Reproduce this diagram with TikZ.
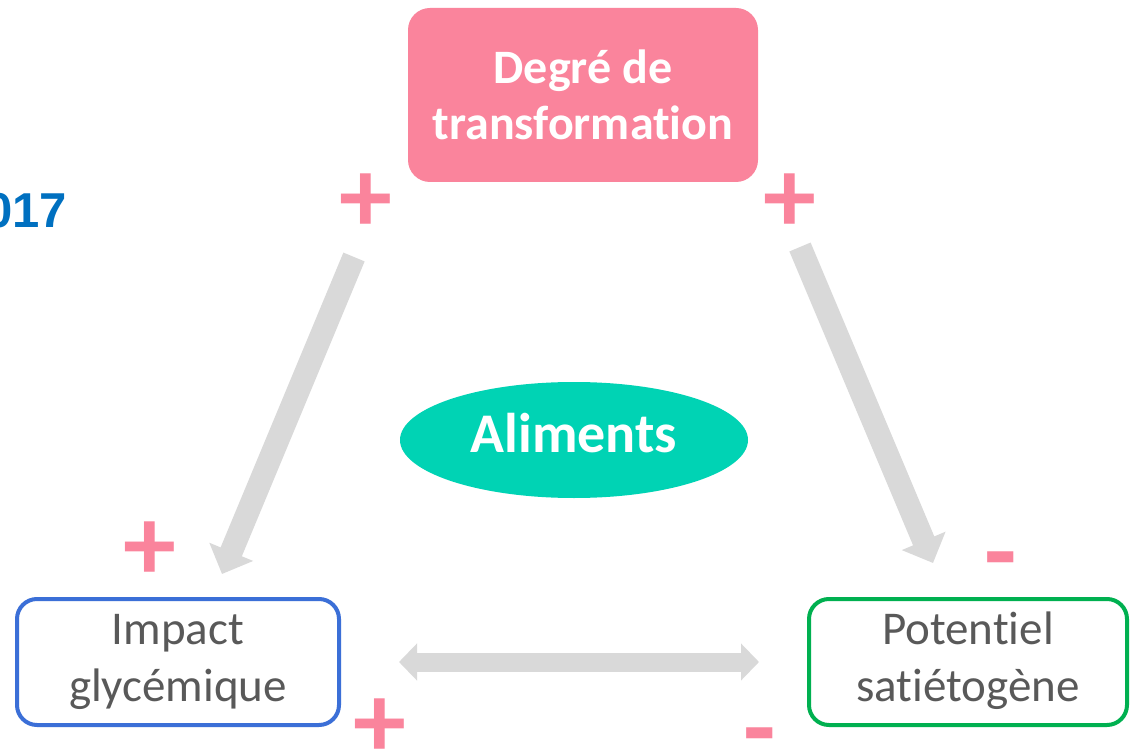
\documentclass[tikz,border=0pt]{standalone}
\usepackage{fontspec}
\setmainfont{Carlito}[Ligatures={NoCommon,NoRare,NoContextual}]
\newfontfamily\arialfont{Liberation Sans}
\usetikzlibrary{arrows.meta,shapes.geometric}
\definecolor{pinkc}{HTML}{FA849C}
\definecolor{tealc}{HTML}{00D3B4}
\definecolor{bluec}{HTML}{3B6FD7}
\definecolor{greenc}{HTML}{00B050}
\definecolor{grayarrow}{HTML}{D9D9D9}
\definecolor{textgray}{HTML}{595959}
\definecolor{yearblue}{HTML}{0070C0}
\newcommand{\lowtext}[2]{\raisebox{-4pt}{\begin{tabular}{@{}c@{}}#1\\#2\end{tabular}}}
\tikzset{
  topbox/.style={rectangle, rounded corners=22pt, fill=pinkc, text=white,
    minimum width=350pt, minimum height=174pt, align=center, inner sep=0pt,
    font=\fontsize{48}{56}\selectfont\bfseries},
  lowbox/.style={rectangle, rounded corners=20pt, fill=white, line width=4pt,
    minimum height=126pt, align=center, inner sep=0pt, text=textgray,
    font=\fontsize{47}{57}\selectfont},
  foodell/.style={ellipse, fill=tealc, text=white, minimum width=348pt,
    minimum height=116pt, inner sep=0pt, font=\fontsize{56}{60}\selectfont\bfseries},
  sign/.style={text=pinkc, inner sep=0pt, font=\fontsize{106}{106}\selectfont\bfseries},
  bigarrow/.style={draw=grayarrow, line width=23pt,
    -{Triangle[width=46pt,length=24pt,fill=grayarrow]}},
  hzarrow/.style={draw=grayarrow, line width=19pt,
    {Triangle[width=36pt,length=18pt,fill=grayarrow]}-{Triangle[width=36pt,length=18pt,fill=grayarrow]}},
}
\begin{document}
\begin{tikzpicture}[x=1pt,y=-1pt]
\useasboundingbox (0,0) rectangle (1130,754);
\clip (0,0) rectangle (1130,754);
\fill[white] (0,0) rectangle (1130,754);

\node[topbox] (deg) at (583,95) {Degré de\\transformation};
\node[foodell] (ali) at (574,440) {\raisebox{15pt}{Aliments}};
\node[lowbox, draw=bluec, minimum width=322pt] (imp) at (178,662) {\lowtext{Impact}{glycémique}};
\node[lowbox, draw=greenc, minimum width=318pt] (pot) at (968,662) {\lowtext{Potentiel}{satiétogène}};

\node[anchor=east, text=yearblue, inner sep=0pt, font=\arialfont\bfseries\fontsize{49}{49}\selectfont] (year) at (67,211) {017};

\node[sign] (p1) at (366,203) {+};
\node[sign] (p2) at (790,203) {+};
\node[sign] (p3) at (150,551) {+};
\node[sign] (p4) at (380,728) {+};
\node[sign] (m1) at (1001,570) {-};
\node[sign] (m2) at (760,746) {-};

\coordinate (a1s) at (354,257);
\coordinate (a1e) at (222,574);
\coordinate (a2s) at (800,247);
\coordinate (a2e) at (933,563);
\coordinate (a3s) at (399,662);
\coordinate (a3e) at (759,662);
\draw[bigarrow] (a1s) -- (a1e);
\draw[bigarrow] (a2s) -- (a2e);
\draw[hzarrow] (a3s) -- (a3e);
\end{tikzpicture}
\end{document}
